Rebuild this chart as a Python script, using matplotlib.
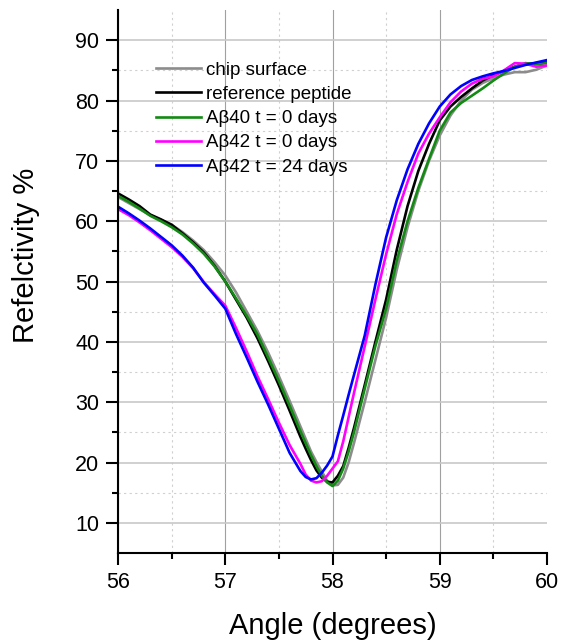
import matplotlib
matplotlib.use("Agg")
import matplotlib.pyplot as plt
from matplotlib.ticker import FixedLocator

plt.rcParams["font.family"] = ["Liberation Sans", "DejaVu Sans"]

# angles (degrees) shared by all curves
angle = [56.0, 56.1, 56.2, 56.3, 56.4, 56.5, 56.6, 56.7, 56.8, 56.9,
         57.0, 57.1, 57.2, 57.3, 57.4, 57.5, 57.6, 57.7, 57.75, 57.8,
         57.85, 57.9, 57.95, 58.0, 58.05, 58.1, 58.15, 58.2, 58.3, 58.4,
         58.5, 58.6, 58.7, 58.8, 58.9, 59.0, 59.1, 59.2, 59.3, 59.4,
         59.5, 59.6, 59.7, 59.8, 59.9, 60.0]

chip_surface = [64.0, 63.0, 62.0, 61.0, 60.2, 59.4, 58.2, 56.8, 55.2, 53.2,
                51.0, 48.2, 45.0, 41.8, 38.2, 34.3, 30.2, 26.0, 23.9, 21.8,
                20.1, 18.5, 17.0, 16.2, 16.3, 17.5, 20.0, 23.2, 30.0, 37.0,
                44.0, 52.0, 59.0, 65.0, 70.0, 74.2, 77.5, 80.0, 81.8, 82.9,
                83.7, 84.3, 84.7, 84.7, 85.1, 85.8]

ref_peptide = [64.6, 63.6, 62.5, 61.1, 60.3, 59.4, 58.0, 56.5, 54.8, 52.6,
               50.0, 47.0, 44.0, 40.6, 36.8, 32.8, 28.6, 24.3, 22.3, 20.4,
               18.7, 17.5, 16.8, 16.7, 17.8, 19.4, 22.4, 25.7, 32.8, 40.0,
               47.0, 55.3, 62.5, 68.3, 72.8, 76.7, 79.0, 80.6, 82.0, 83.3,
               84.2, 84.9, 85.6, 86.0, 86.2, 86.3]

ab40_t0 = [64.2, 63.2, 62.1, 60.9, 60.0, 59.0, 57.8, 56.3, 54.6, 52.5,
           50.0, 47.2, 44.3, 41.2, 37.4, 33.5, 29.4, 25.2, 23.2, 21.2,
           19.4, 17.8, 16.7, 16.1, 17.0, 19.0, 21.8, 25.0, 32.2, 39.3,
           45.5, 53.5, 60.0, 65.5, 70.3, 75.0, 78.0, 79.6, 80.8, 82.0,
           83.3, 84.5, 85.6, 86.2, 86.0, 86.2]

ab42_t0 = [62.0, 61.0, 59.8, 58.5, 57.1, 55.7, 54.1, 52.2, 49.9, 47.9,
           46.0, 42.3, 38.4, 34.3, 30.5, 26.6, 22.9, 19.8, 18.0, 17.0,
           16.7, 16.9, 17.8, 19.0, 20.2, 23.5, 27.5, 31.5, 39.2, 47.0,
           54.5, 61.2, 66.5, 71.2, 74.5, 77.2, 79.7, 81.5, 82.8, 83.6,
           84.0, 85.0, 86.2, 86.1, 85.6, 85.8]

ab42_t24 = [62.4, 61.3, 60.1, 58.8, 57.4, 56.0, 54.3, 52.3, 49.8, 47.7,
            45.5, 41.3, 37.4, 33.4, 29.6, 25.6, 21.6, 18.6, 17.6, 17.2,
            17.4, 18.3, 19.5, 21.0, 24.5, 27.8, 31.2, 34.5, 41.0, 49.5,
            57.3, 63.5, 68.6, 72.8, 76.2, 79.0, 81.0, 82.4, 83.4, 84.0,
            84.5, 84.9, 85.4, 85.9, 86.3, 86.7]

series = [
    ("chip surface", chip_surface, "#8c8c8c"),
    ("reference peptide", ref_peptide, "#000000"),
    ("A\u03b240 t = 0 days", ab40_t0, "#138a13"),
    ("A\u03b242 t = 0 days", ab42_t0, "#ff00ff"),
    ("A\u03b242 t = 24 days", ab42_t24, "#0000ff"),
]

fig = plt.figure(figsize=(5.65, 6.42), dpi=100)
ax = fig.add_axes([0.209, 0.1386, 0.759, 0.8458])

for label, vals, col in series:
    ax.plot(angle, vals, color=col, lw=1.9, label=label)

ax.set_xlim(56, 60)
ax.set_ylim(5, 95)
ax.xaxis.set_major_locator(FixedLocator([56, 57, 58, 59, 60]))
ax.xaxis.set_minor_locator(FixedLocator([56.5, 57.5, 58.5, 59.5]))
ax.yaxis.set_major_locator(FixedLocator(list(range(10, 91, 10))))
ax.yaxis.set_minor_locator(FixedLocator(list(range(15, 90, 10))))

ax.grid(which="major", axis="x", color="#a0a0a0", lw=0.8)
ax.grid(which="major", axis="y", color="#c8c8c8", lw=1.2)
ax.grid(which="minor", color="#d0d0d0", lw=0.8, ls=(0, (2, 3)))
ax.get_xgridlines()[-1].set_visible(False)
ax.set_axisbelow(True)

for s in ["top", "right"]:
    ax.spines[s].set_visible(False)
for s in ["left", "bottom"]:
    ax.spines[s].set_linewidth(1.5)

ax.tick_params(which="major", direction="out", length=8.5, width=1.5,
               labelsize=15.5, pad=5)
ax.tick_params(which="minor", direction="out", length=4.5, width=1.5)

ax.set_xlabel("Angle (degrees)", fontsize=21)
ax.set_ylabel("Refelctivity %", fontsize=21)
ax.xaxis.set_label_coords(0.5, -0.108)
ax.yaxis.set_label_coords(-0.183, 0.549)

ax.legend(loc="upper left", bbox_to_anchor=(0.088, 0.905), frameon=False,
          fontsize=13.5, handlelength=2.4, labelspacing=0.38, handletextpad=0.3,
          borderaxespad=0, borderpad=0)

fig.savefig("out.png", dpi=100)
